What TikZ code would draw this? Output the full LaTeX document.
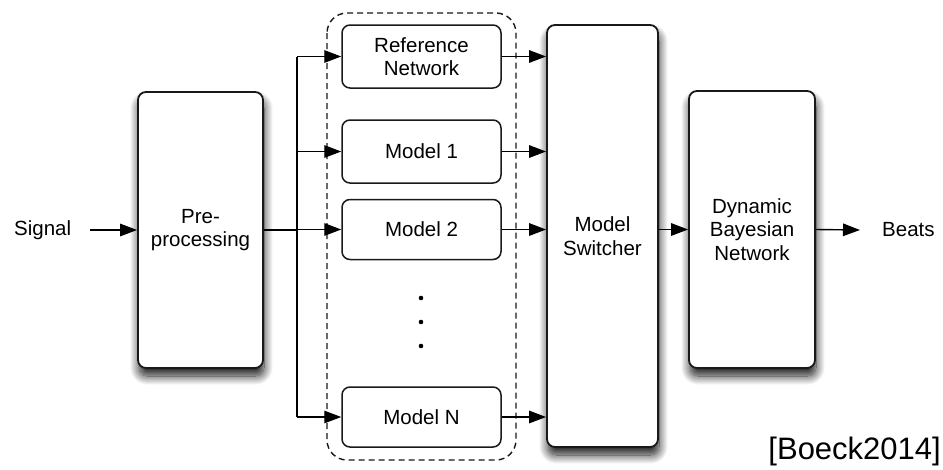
\documentclass[tikz,border=0pt]{standalone}
\usepackage{fontspec}
\setmainfont{Liberation Sans}
\usetikzlibrary{arrows.meta,shadows.blur,calc}
\begin{document}
\begin{tikzpicture}[x=1pt,y=-1pt,
  box/.style={draw=black!90,line width=1.8pt,fill=white,rounded corners=8pt,
    align=center,inner sep=0pt,font=\fontsize{20.5}{23.5}\selectfont,
    blur shadow={shadow xshift=1pt,shadow yshift=-8pt,shadow blur steps=14,shadow opacity=90,shadow blur radius=9pt}},
  mbox/.style={draw=black!90,line width=1.5pt,fill=white,rounded corners=8pt,
    align=center,inner sep=0pt,minimum width=159pt,font=\fontsize{20.5}{23.5}\selectfont},
  lbl/.style={inner sep=0pt,font=\fontsize{20.5}{23.5}\selectfont},
  arr/.style={line width=1.4pt,-{Triangle[length=17pt,width=12.5pt]}},
  ln/.style={line width=1.4pt}]
\useasboundingbox (0,0) rectangle (943,469);
% dashed group
\draw[line width=1.4pt,dash pattern=on 6pt off 4pt,rounded corners=20pt,black!90] (327,13) rectangle (516,460);
% nodes
\node[box,minimum width=125pt,minimum height=276pt] (pre) at (200.5,230) {Pre-\\processing};
\node[mbox,minimum height=63pt] (ref) at (421.5,56.5) {Reference\\Network};
\node[mbox,minimum height=63pt] (m1) at (421.5,151.5) {Model 1};
\node[mbox,minimum height=60pt] (m2) at (421.5,229.5) {Model 2};
\node[mbox,minimum height=60pt] (mN) at (421.5,417) {Model N};
\node[box,minimum width=111pt,minimum height=422pt] (sw) at (602.5,236) {Model\\Switcher};
\node[box,minimum width=126pt,minimum height=277pt] (dbn) at (752,229.5) {Dynamic\\Bayesian\\Network};
\node[lbl,anchor=west] (sig) at (14,230) {Signal};
\node[lbl,anchor=west] (beats) at (882,230) {Beats};
\node[inner sep=0pt,anchor=south east,font=\fontsize{31}{34}\selectfont] (cite) at (941,466) {[Boeck2014]};
% dots
\fill (421,298) circle (2.3pt);
\fill (421,322) circle (2.3pt);
\fill (421,346) circle (2.3pt);
% bus
\coordinate (bus) at (297,230);
\draw[ln] (pre.east) -- (bus);
\draw[ln] (bus |- ref) -- (bus |- mN);
\foreach \m in {ref,m1,m2,mN}{
  \draw[arr] (bus |- \m) -- (\m.west);
  \draw[arr] (\m.east) -- (\m.east -| sw.west);
}
\draw[arr] (sig.east) ++(19pt,0) -- (pre.west);
\draw[arr] (dbn.west -| sw.east) -- (dbn.west);
\draw[arr] (dbn.east) -- ($(beats.west)+(-22pt,0)$);
\end{tikzpicture}
\end{document}
